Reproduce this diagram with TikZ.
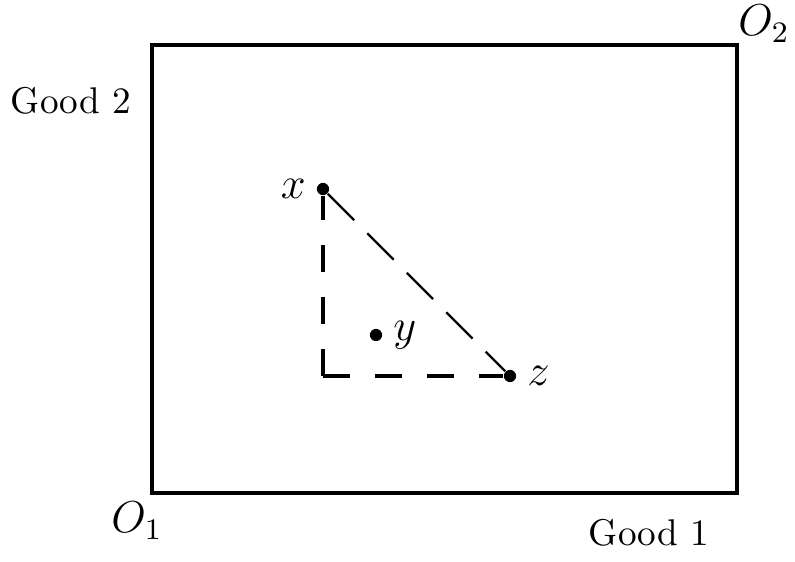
\documentclass[tikz,border=0pt]{standalone}
\usepackage{amsmath,amssymb}
\usetikzlibrary{positioning}

\begin{document}
\begin{tikzpicture}[x=.00945cm,y=-.00945cm,
  dot/.style={circle,fill,inner sep=0pt,minimum size=3.3pt},
  lbl/.style={inner sep=0pt,font=\large},
  guide/.style={line width=.85pt,dash pattern=on 7.2pt off 6.8pt},
  chord/.style={line width=.6pt,dash pattern=on 10pt off 5pt}]
  \useasboundingbox (0,0) rectangle (795,561);
  % the box
  \coordinate (O1) at (152,493);
  \coordinate (O2) at (737,45);
  \draw[line width=1.05pt] (O1) rectangle (O2);
  % the bundles
  \node[dot] (X) at (323,189) {};
  \node[dot] (Y) at (376,335) {};
  \node[dot] (Z) at (510,376) {};
  \coordinate (C) at (323,376);
  \draw[guide] (C) -- (X);
  \draw[guide] (C) -- (Z);
  \draw[chord] (X) -- (Z);
  \node[lbl,left=2.6pt of X] (xl) {$x$};
  \node[lbl,right=2.6pt of Y] (yl) {$y$};
  \node[lbl,right=2.6pt of Z] (zl) {$z$};
  % corners and axes
  \node[font=\large] (o1) at (137,521) {$O_1$};
  \node[font=\large] (o2) at (764,24) {$O_2$};
  \node (g2) at (71,101) {Good 2};
  \node (g1) at (649,533) {Good 1};
\end{tikzpicture}
\end{document}
